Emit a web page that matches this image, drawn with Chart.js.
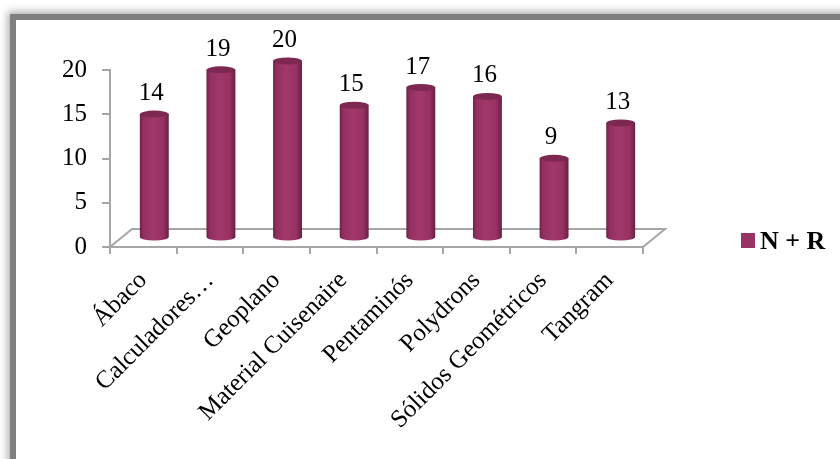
<!DOCTYPE html>
<html lang="pt-br">

<head>
    <meta charset="UTF-8">
    <title>N + R</title>
    <style>
        html, body { margin: 0; padding: 0; background: #ffffff; overflow: hidden; }
        .moldura {
            position: absolute;
            left: 10px;
            top: 14px;
            width: 900px;
            height: 500px;
            border-left: 6px solid #7f7f7f;
            border-top: 6px solid #7f7f7f;
            box-shadow: -2px -2px 8px rgba(0, 0, 0, 0.35);
        }
        .container-grafico {
            position: absolute;
            left: 0;
            top: 0;
            width: 840px;
            height: 459px;
        }
    </style>
</head>

<body>
    <div class="moldura"></div>
    <div class="container-grafico">
        <canvas id="graficoMateriais" width="840" height="459"></canvas>
    </div>
</body>

</html>
<script src="https://cdn.jsdelivr.net/npm/chart.js"></script>
<script>
    const materiais = ['Ábaco', 'Calculadores…', 'Geoplano', 'Material Cuisenaire', 'Pentaminós', 'Polydrons', 'Sólidos Geométricos', 'Tangram'];
    const votos = [14, 19, 20, 15, 17, 16, 9, 13];
    const nomeSerie = 'N + R';
    const marcasEixoY = [0, 5, 10, 15, 20];

    const fonte = '"Liberation Serif", "Times New Roman", serif';
    const corSerie = '#993366';
    // deslocamento da profundidade 3D
    const profX = 11;
    const profY = -9;

    const desenharCilindros = {
        id: 'cilindros',
        beforeDatasetsDraw(chart) {
            const ctx = chart.ctx;
            const area = chart.chartArea;
            ctx.save();
            ctx.strokeStyle = '#a6a6a6';
            ctx.lineWidth = 2;
            // chão
            ctx.beginPath();
            ctx.moveTo(area.left, area.bottom);
            ctx.lineTo(area.left + 2 * profX, area.bottom + 2 * profY);
            ctx.lineTo(area.right + 2 * profX, area.bottom + 2 * profY);
            ctx.lineTo(area.right, area.bottom);
            ctx.stroke();
            ctx.restore();
        },
        afterDatasetsDraw(chart) {
            const ctx = chart.ctx;
            const meta = chart.getDatasetMeta(0);
            ctx.save();
            meta.data.forEach(function (barra, i) {
                const cx = barra.x + profX;
                const topo = barra.y + profY;
                const base = barra.base + profY;
                const larg = barra.width;
                const rx = larg / 2;
                const ry = 3.5;
                const esq = cx - rx;

                const grad = ctx.createLinearGradient(esq, 0, esq + larg, 0);
                grad.addColorStop(0, '#6e2045');
                grad.addColorStop(0.12, '#923060');
                grad.addColorStop(0.45, '#a2386b');
                grad.addColorStop(0.8, '#973262');
                grad.addColorStop(1, '#6a1f43');

                ctx.fillStyle = grad;
                ctx.beginPath();
                ctx.moveTo(esq, topo);
                ctx.lineTo(esq, base);
                ctx.ellipse(cx, base, rx, ry, 0, Math.PI, 0, true);
                ctx.lineTo(esq + larg, topo);
                ctx.closePath();
                ctx.fill();

                ctx.fillStyle = '#7c2850';
                ctx.beginPath();
                ctx.ellipse(cx, topo, rx, ry, 0, 0, Math.PI * 2);
                ctx.fill();

                ctx.fillStyle = '#000000';
                ctx.font = '25px ' + fonte;
                ctx.textAlign = 'center';
                ctx.textBaseline = 'alphabetic';
                ctx.fillText(String(votos[i]), cx - 3, topo - 14);
            });

            // legenda
            ctx.fillStyle = corSerie;
            ctx.fillRect(741, 233, 14, 15);
            ctx.fillStyle = '#000000';
            ctx.font = 'bold 26px ' + fonte;
            ctx.textAlign = 'left';
            ctx.textBaseline = 'middle';
            ctx.fillText(nomeSerie, 760, 242);
            ctx.restore();
        }
    };

    const grafico = document.getElementById('graficoMateriais').getContext('2d');

    new Chart(grafico, {
        type: 'bar',
        data: {
            labels: materiais,
            datasets: [{
                label: nomeSerie,
                data: votos,
                backgroundColor: 'rgba(0,0,0,0)',
                borderWidth: 0,
                barPercentage: 0.62,
                categoryPercentage: 0.7
            }]
        },
        plugins: [desenharCilindros],
        options: {
            responsive: false,
            animation: false,
            layout: {
                padding: { top: 70, right: 197, left: 0, bottom: 0 }
            },
            plugins: {
                legend: { display: false },
                tooltip: { enabled: false }
            },
            scales: {
                x: {
                    afterFit: function (escala) { escala.height = 212; },
                    grid: {
                        drawOnChartArea: false,
                        color: '#a6a6a6',
                        tickLength: 7,
                        lineWidth: 2
                    },
                    border: { color: '#a6a6a6', width: 2 },
                    ticks: {
                        maxRotation: 45,
                        minRotation: 45,
                        padding: 12,
                        color: '#000000',
                        font: { family: fonte, size: 25 }
                    }
                },
                y: {
                    min: 0,
                    max: 20,
                    afterFit: function (escala) { escala.width = 110; },
                    afterBuildTicks: function (escala) {
                        escala.ticks = marcasEixoY.map(function (v) { return { value: v }; });
                    },
                    grid: {
                        drawOnChartArea: false,
                        color: '#a6a6a6',
                        tickLength: 8,
                        lineWidth: 2
                    },
                    border: { color: '#a6a6a6', width: 2 },
                    ticks: {
                        padding: 15,
                        color: '#000000',
                        font: { family: fonte, size: 25 }
                    }
                }
            }
        }
    });
</script>
